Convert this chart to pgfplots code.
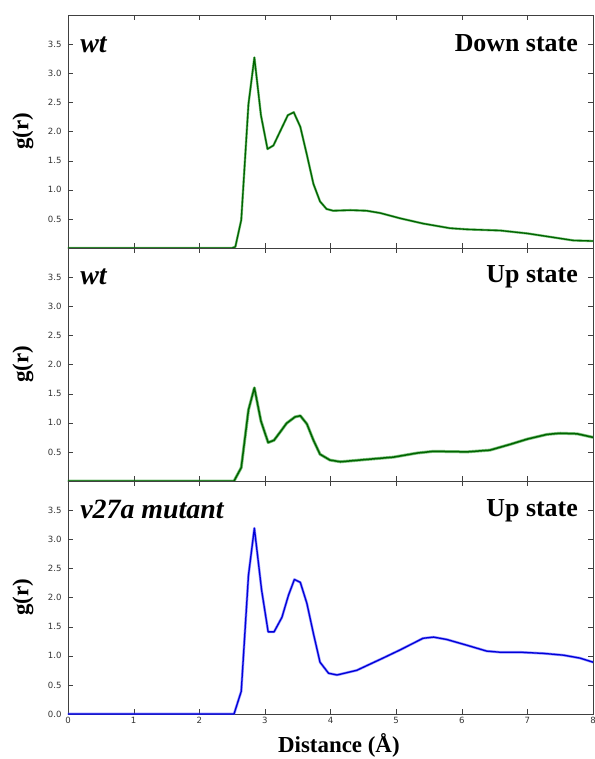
\documentclass[border=0pt]{standalone}
\usepackage{fontspec}
\setmainfont{Liberation Serif}
\newfontfamily\tickfont{DejaVu Sans}
\usepackage{pgfplots}
\usepackage{pgfplotstable}
\pgfplotsset{compat=1.18}
\usepgfplotslibrary{groupplots}

\definecolor{gcore}{HTML}{006400}
\definecolor{gband}{HTML}{2A9A2A}
\definecolor{bcore}{HTML}{0000D8}
\definecolor{bband}{HTML}{5050FF}

% wt, down state
\pgfplotstableread{
x y
0.00 0.00
2.50 0.00
2.55 0.02
2.64 0.48
2.75 2.47
2.84 3.27
2.94 2.28
3.04 1.70
3.13 1.76
3.24 2.02
3.35 2.28
3.44 2.33
3.54 2.08
3.64 1.60
3.74 1.10
3.84 0.80
3.94 0.67
4.04 0.64
4.30 0.65
4.55 0.64
4.76 0.60
5.06 0.51
5.41 0.42
5.82 0.34
6.08 0.32
6.59 0.30
7.00 0.25
7.35 0.19
7.70 0.13
8.00 0.12
}\downtab

% wt, up state
\pgfplotstableread{
x y
0.00 0.00
2.53 0.00
2.64 0.23
2.75 1.22
2.84 1.60
2.94 1.03
3.05 0.66
3.14 0.70
3.24 0.85
3.33 0.99
3.46 1.10
3.54 1.12
3.64 0.98
3.74 0.70
3.84 0.46
3.99 0.36
4.15 0.33
4.55 0.37
4.96 0.41
5.32 0.48
5.57 0.51
6.08 0.50
6.43 0.53
6.74 0.63
7.00 0.72
7.30 0.80
7.50 0.82
7.76 0.81
8.00 0.75
}\uptab

% v27a mutant, up state
\pgfplotstableread{
x y
0.00 0.00
2.53 0.00
2.64 0.39
2.75 2.38
2.84 3.19
2.95 2.13
3.05 1.41
3.14 1.41
3.26 1.66
3.36 2.04
3.45 2.31
3.54 2.26
3.64 1.90
3.74 1.38
3.84 0.89
3.97 0.70
4.10 0.67
4.40 0.75
4.80 0.96
5.06 1.10
5.41 1.30
5.57 1.32
5.77 1.28
6.08 1.18
6.38 1.08
6.59 1.06
6.90 1.06
7.25 1.04
7.55 1.01
7.80 0.96
8.00 0.89
}\mutab

\tikzset{
  tag/.style={inner sep=0pt, font=\fontsize{26}{28}\selectfont\bfseries},
  itag/.style={inner sep=0pt, font=\fontsize{28}{30}\selectfont\bfseries\itshape},
}

\pgfplotsset{
  panel/.style={
    width=525bp, height=233bp, scale only axis,
    xmin=0, xmax=8, ymin=0, ymax=4,
    axis line style={black!75},
    tick align=inside,
    tick style={black!75},
    major tick length=5bp,
    xtick={0,1,...,8},
    /pgf/number format/assume math mode=true,
    ticklabel style={font=\tickfont\fontsize{8.6}{10}\selectfont, text=black!80},
    yticklabel style={xshift=-3bp, /pgf/number format/fixed, /pgf/number format/fixed zerofill,
      /pgf/number format/precision=1},
    ylabel={g(r)},
    ylabel style={font=\fontsize{23}{24}\selectfont\bfseries,
      at={(axis description cs:-0.086,0.5)}, anchor=center},
    every axis plot/.append style={line join=round, line cap=round},
  },
}

\begin{document}
\begin{tikzpicture}
\begin{groupplot}[group style={group size=1 by 3, vertical sep=0pt,
    xticklabels at=edge bottom}, panel]
\nextgroupplot[ytick={0.5,1,...,3.5}]
\addplot[gband, line width=2.4bp, opacity=0.6] table {\downtab};
\addplot[gcore, line width=1.3bp] table {\downtab};
\node[itag, anchor=base west] at (rel axis cs:0.023,0.838) {wt};
\node[tag, anchor=base east] at (rel axis cs:0.9714,0.8425) {Down state};

\nextgroupplot[ytick={0.5,1,...,3.5}]
\addplot[gband, line width=3.0bp, opacity=0.6] table {\uptab};
\addplot[gcore, line width=1.5bp] table {\uptab};
\node[itag, anchor=base west] at (rel axis cs:0.023,0.845) {wt};
\node[tag, anchor=base east] at (rel axis cs:0.9714,0.850) {Up state};

\nextgroupplot[ytick={0,0.5,...,3.5},
  xlabel={Distance (Å)},
  xlabel style={font=\fontsize{23}{24}\selectfont\bfseries,
    at={(axis description cs:0.516,-0.167)}, anchor=base}]
\addplot[bband, line width=2.6bp, opacity=0.6] table {\mutab};
\addplot[bcore, line width=1.3bp] table {\mutab};
\node[itag, anchor=base west] at (rel axis cs:0.023,0.841) {v27a mutant};
\node[tag, anchor=base east] at (rel axis cs:0.9714,0.846) {Up state};
\coordinate (bl) at (rel axis cs:0,0);
\end{groupplot}
\pgfresetboundingbox
\path ([shift={(-68bp,-45bp)}]bl) rectangle ++(595bp,759bp);
\end{tikzpicture}
\end{document}
